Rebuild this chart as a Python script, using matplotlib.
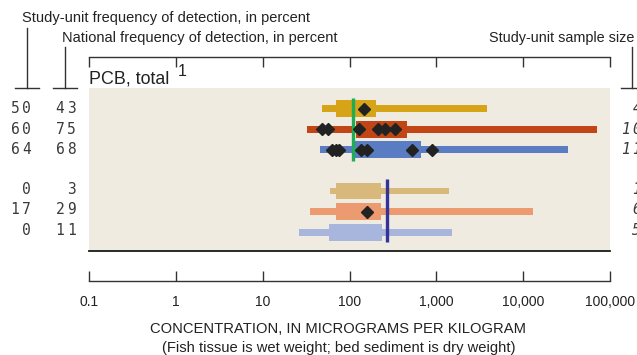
import matplotlib
matplotlib.use("Agg")
import matplotlib.pyplot as plt
from matplotlib.ticker import FixedLocator, FixedFormatter, NullLocator

# ---- data -------------------------------------------------------------
row_pos = [1, 2, 3, 5, 6, 7]
colors = ["#D6A416", "#C24515", "#5A7CC2", "#D8B97B", "#EC9A6F", "#A8B5DC"]
whisker_lo = [48, 32.5, 45, 60, 35, 26]
whisker_hi = [3790, 71300, 32700, 1390, 12900, 1500]
box_lo = [70, 117, 112, 70, 70.5, 58]
box_hi = [199, 461, 658, 228, 228, 238]
site_values = [
    [147],
    [48, 56, 127, 214, 255, 333],
    [63, 69, 75, 135, 160, 518, 881],
    [],
    [158],
    [],
]
study_freq = ["50", "60", "64", "0", "17", "0"]
national_freq = ["43", "75", "68", "3", "29", "11"]
sample_size = ["47", "106", "113", "15", "62", "52"]
fish_guideline = 108
sediment_guideline = 271
tick_values = [0.1, 1, 10, 100, 1000, 10000, 100000]
tick_labels = ["0.1", "1", "10", "100", "1,000", "10,000", "100,000"]

W, H = 637, 355
fig = plt.figure(figsize=(W / 100, H / 100), dpi=100)
plt.rcParams["font.family"] = ["Liberation Sans", "DejaVu Sans"]


def fx(px):
    return px / W


def fy(py):
    return 1 - py / H


def rect(x0, y0, x1, y1):
    return [fx(x0), fy(y1), fx(x1) - fx(x0), fy(y0) - fy(y1)]


TXT = "#222222"
LINE = "#333333"
X0, X1 = 89.3, 610

# ---- main panel ---------------------------------------------------------
ax = fig.add_axes(rect(X0, 88, X1, 250.5))
ax.set_facecolor("#EFEBE1")
ax.set_xscale("log")
ax.set_xlim(0.1, 1e5)
ax.set_ylim(162.5 / 20.6, 0)
for s in ["top", "left", "right"]:
    ax.spines[s].set_visible(False)
ax.spines["bottom"].set_color("#1a1a1a")
ax.spines["bottom"].set_linewidth(1.3)
ax.xaxis.set_major_locator(NullLocator())
ax.xaxis.set_minor_locator(NullLocator())
ax.set_yticks([])

for y, c, wl, wh, bl, bh, pts in zip(row_pos, colors, whisker_lo, whisker_hi,
                                     box_lo, box_hi, site_values):
    ax.barh(y, wh - wl, left=wl, height=0.33, color=c, zorder=2)
    ax.barh(y, bh - bl, left=bl, height=0.82, color=c, zorder=3)
    if pts:
        ax.plot(pts, [y] * len(pts), linestyle="none", marker="D",
                markersize=6, color="#222222", zorder=5)

ax.vlines(fish_guideline, 0.49, 3.54, color="#1DAE55", lw=2.4, zorder=4)
ax.vlines(sediment_guideline, 4.42, 7.48, color="#34339A", lw=2.4, zorder=4)

# ---- top bracket scale --------------------------------------------------
axt = fig.add_axes(rect(X0, 57, X1, 67))
axt.set_xscale("log")
axt.set_xlim(0.1, 1e5)
axt.patch.set_alpha(0)
for s in ["bottom", "left", "right"]:
    axt.spines[s].set_visible(False)
axt.spines["top"].set_color(LINE)
axt.spines["top"].set_linewidth(1.0)
axt.set_yticks([])
axt.xaxis.set_major_locator(FixedLocator(tick_values))
axt.xaxis.set_minor_locator(NullLocator())
axt.tick_params(axis="x", which="major", top=True, bottom=False,
                labeltop=False, labelbottom=False, direction="in",
                length=7.2, width=1.0, color=LINE)

# ---- bottom scale -------------------------------------------------------
axb = fig.add_axes(rect(X0, 271, X1, 281.3))
axb.set_xscale("log")
axb.set_xlim(0.1, 1e5)
axb.patch.set_alpha(0)
for s in ["top", "left", "right"]:
    axb.spines[s].set_visible(False)
axb.spines["bottom"].set_color(LINE)
axb.spines["bottom"].set_linewidth(1.0)
axb.set_yticks([])
axb.xaxis.set_major_locator(FixedLocator(tick_values))
axb.xaxis.set_major_formatter(FixedFormatter(tick_labels))
axb.xaxis.set_minor_locator(NullLocator())
axb.tick_params(axis="x", which="major", direction="in", length=7.2,
                width=1.0, color=LINE, labelsize=10, labelcolor=TXT, pad=10)

fig.text(fx(338), fy(329), "CONCENTRATION, IN MICROGRAMS PER KILOGRAM",
         ha="center", va="center", fontsize=10.6, color=TXT)
fig.text(fx(338.5), fy(348), "(Fish tissue is wet weight; bed sediment is dry weight)",
         ha="center", va="center", fontsize=10.6, color=TXT)

# ---- headers and leader lines ------------------------------------------
fig.text(fx(22.5), fy(18), "Study-unit frequency of detection, in percent",
         ha="left", va="center", fontsize=10.5, color=TXT)
fig.text(fx(61.7), fy(38), "National frequency of detection, in percent",
         ha="left", va="center", fontsize=10.5, color=TXT)
fig.text(fx(489), fy(38), "Study-unit sample size",
         ha="left", va="center", fontsize=10.4, color=TXT)
fig.text(fx(89.3), fy(78.5), "PCB, total", ha="left", va="center",
         fontsize=12.9, color=TXT)
fig.text(fx(177.5), fy(71.5), "1", ha="left", va="center", fontsize=11.5,
         color=TXT)


def line(xs, ys):
    fig.add_artist(plt.Line2D([fx(x) for x in xs], [fy(y) for y in ys],
                              color=LINE, lw=1.0))


line([26.7, 26.7], [28, 88])
line([15, 38.5], [88, 88])
line([65, 65], [47, 88])
line([53, 76.5], [88, 88])
line([632, 632], [47, 88])
line([621, 640], [88, 88])

# ---- frequency and sample size columns ---------------------------------
row_px = [108.3, 129, 149.3, 189.5, 210, 230.3]
pitch = 11.3


def digits(text, right_center, y, **kw):
    n = len(text)
    for i, ch in enumerate(text):
        x = right_center - (n - 1 - i) * pitch
        fig.text(fx(x), fy(y), ch, ha="center", va="center",
                 family="DejaVu Sans Mono", fontsize=10.5, color="#3a3a3a", **kw)


for y, a, b in zip(row_px, study_freq, national_freq):
    digits(a, 26.3, y)
    digits(b, 71.3, y)

for y, n in zip(row_px, sample_size):
    first = 625.5 + (3 - len(n)) * pitch
    for i, ch in enumerate(n):
        fig.text(fx(first + i * pitch), fy(y), ch, ha="center", va="center",
                 family="DejaVu Sans Mono", style="italic", fontsize=10.5,
                 color="#3a3a3a")

fig.savefig("out.png", dpi=100)
